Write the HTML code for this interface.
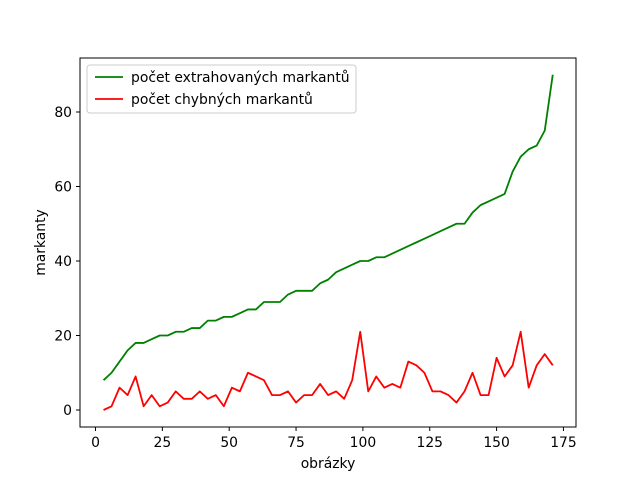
<!DOCTYPE html>
<html><head><meta charset="utf-8"><style>
body{margin:0;background:#fff}
svg text{font-family:"DejaVu Sans","Liberation Sans",sans-serif;font-size:13.9px;fill:#000}
</style></head><body>
<svg width="640" height="480" viewBox="0 0 640 480">
<rect x="0" y="0" width="640" height="480" fill="#fff"/>
<g id="plot"></g>
<rect x="80" y="58" width="496" height="369" fill="none" stroke="#000" stroke-width="1"/>
<g id="ticks"></g>
<text x="328" y="468" text-anchor="middle">obrázky</text>
<text transform="translate(45,242.5) rotate(-90)" text-anchor="middle">markanty</text>
<g>
<rect x="87" y="65" width="269" height="48" rx="3" fill="#fff" fill-opacity="0.8" stroke="#ccc"/>
<g>
<line x1="95" y1="77" x2="123" y2="77" stroke="#008000" stroke-width="1.8"/>
<text x="131" y="82">počet extrahovaných markantů</text></g>
<g>
<line x1="95" y1="99" x2="123" y2="99" stroke="#ff0000" stroke-width="1.8"/>
<text x="131" y="104">počet chybných markantů</text></g>
</g>
</svg>
<script>
const xValues=[3,6,9,12,15,18,21,24,27,30,33,36,39,42,45,48,51,54,57,60,63,66,69,72,75,78,81,84,87,90,93,96,99,102,105,108,111,114,117,120,123,126,129,132,135,138,141,144,147,150,153,156,159,162,165,168,171];
const extracted=[8,10,13,16,18,18,19,20,20,21,21,22,22,24,24,25,25,26,27,27,29,29,29,31,32,32,32,34,35,37,38,39,40,40,41,41,42,43,44,45,46,47,48,49,50,50,53,55,56,57,58,64,68,70,71,75,90];
const errors=[0,1,6,4,9,1,4,1,2,5,3,3,5,3,4,1,6,5,10,9,8,4,4,5,2,4,4,7,4,5,3,8,21,5,9,6,7,6,13,12,10,5,5,4,2,5,10,4,4,14,9,12,21,6,12,15,12];
const xTicks=[0,25,50,75,100,125,150,175];
const yTicks=[0,20,40,60,80];
const NS="http://www.w3.org/2000/svg";
const sx=v=>95.5+v*2.674, sy=v=>410-v*3.725;
const plot=document.getElementById('plot'), ticks=document.getElementById('ticks');
function line(vals,color,name){
  const p=document.createElementNS(NS,'polyline');
  p.setAttribute('points',xValues.map((x,i)=>sx(x)+','+sy(vals[i])).join(' '));
  p.setAttribute('fill','none');p.setAttribute('stroke',color);p.setAttribute('stroke-width','1.8');
  p.setAttribute('stroke-linejoin','round');
  
  
  plot.appendChild(p);
}
line(extracted,'#008000','line-extracted');
line(errors,'#ff0000','line-errors');
xTicks.forEach(t=>{
  const g=document.createElementNS(NS,'g');
  
  
  g.innerHTML=`<line x1="${sx(t)}" y1="427" x2="${sx(t)}" y2="431" stroke="#000"/><text x="${sx(t)}" y="447" text-anchor="middle">${t}</text>`;
  ticks.appendChild(g);
});
yTicks.forEach(t=>{
  const g=document.createElementNS(NS,'g');
  
  
  g.innerHTML=`<line x1="76" y1="${sy(t)}" x2="80" y2="${sy(t)}" stroke="#000"/><text x="72" y="${sy(t)+5}" text-anchor="end">${t}</text>`;
  ticks.appendChild(g);
});
</script>
</body></html>
